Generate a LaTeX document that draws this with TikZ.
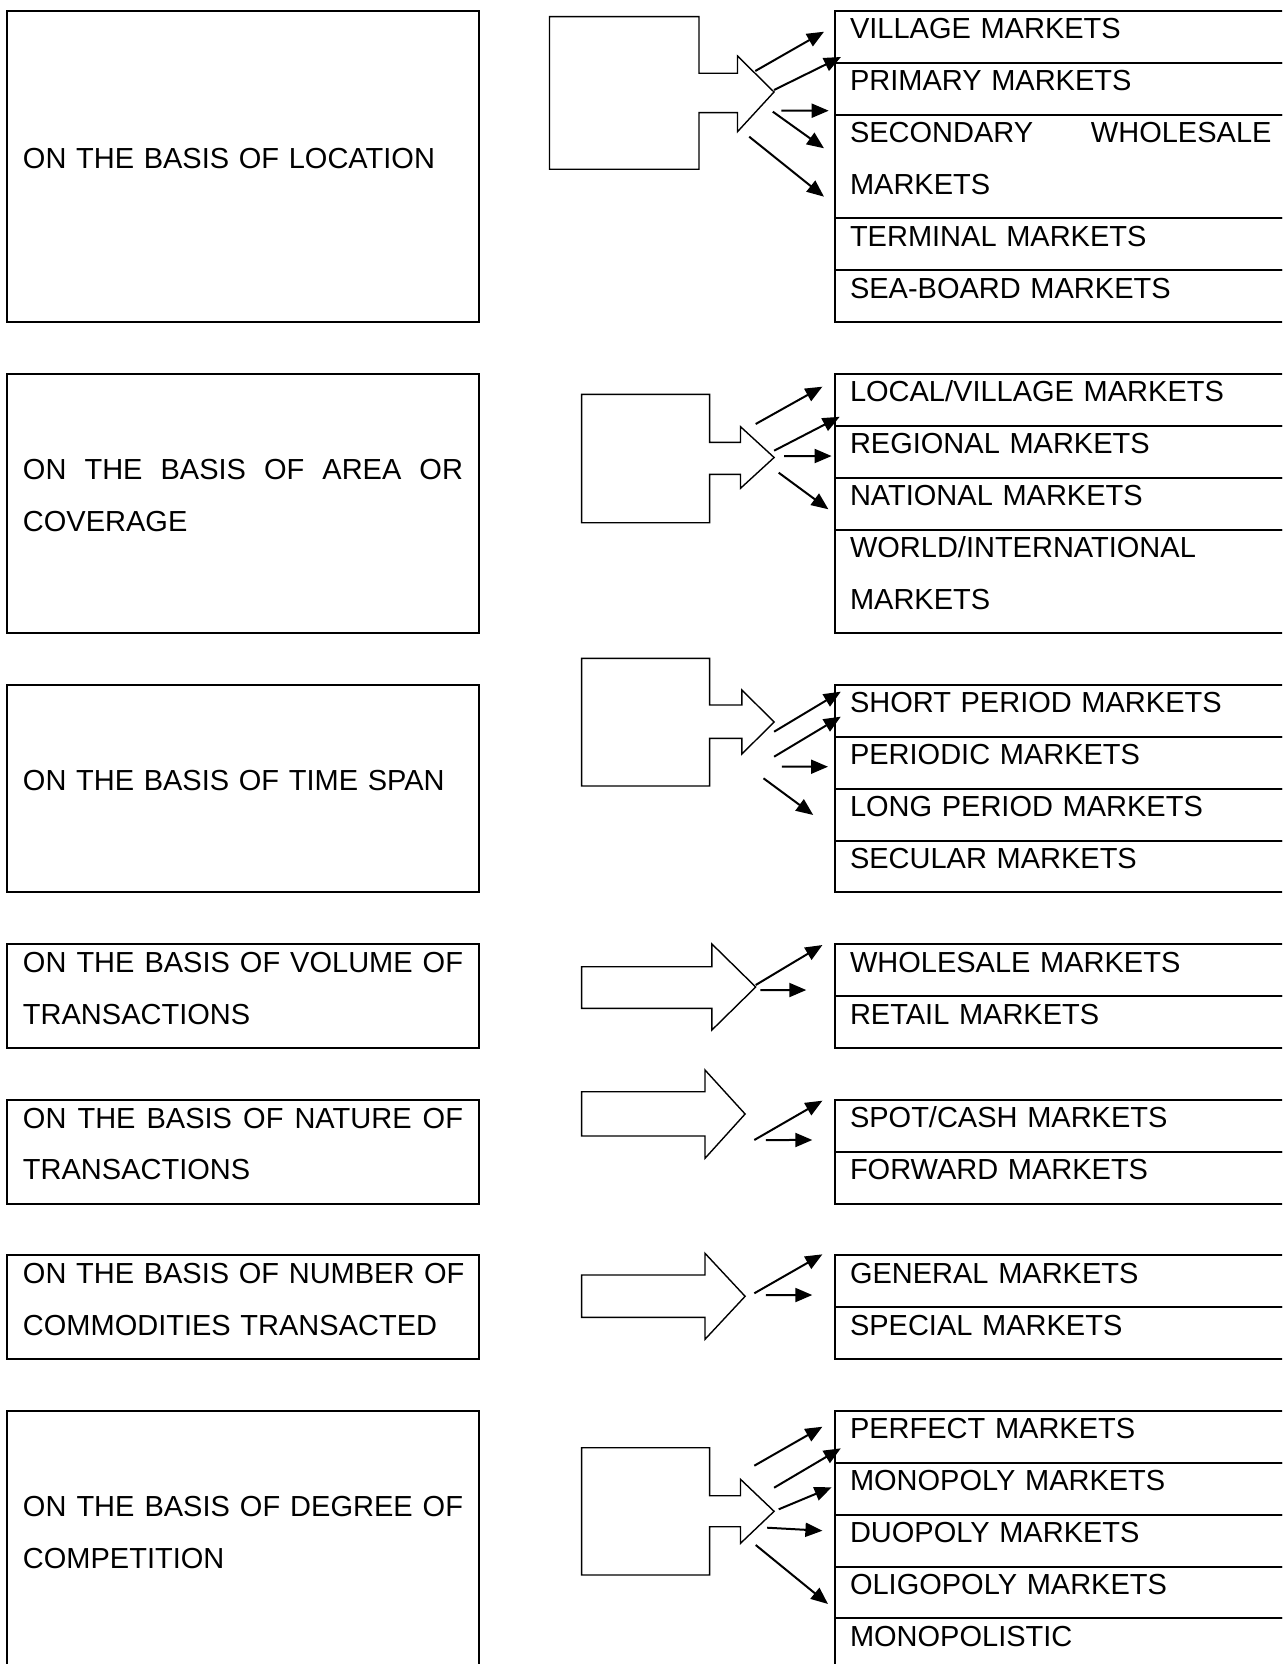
\documentclass[tikz,border=0pt]{standalone}
\usepackage{fontspec}
\setmainfont{Liberation Sans}
\usepackage{tikz}
\usetikzlibrary{positioning,arrows.meta}
\tikzstyle{basis} = [rectangle, draw, line width=1pt, outer sep=0pt, anchor=north west,
minimum width=235.6pt, text width=220pt, inner xsep=7.55pt, inner ysep=0pt, align=left]
\tikzstyle{market} = [rectangle, draw, line width=1pt, outer sep=0pt, minimum width=230.3pt,
minimum height=25.925pt, text width=215pt, inner xsep=7.65pt, inner ysep=0pt, align=left]
\tikzstyle{tworow} = [minimum height=51.85pt]
\tikzstyle{oneline} = [text height=6pt, text depth=4pt]
\tikzstyle{twoline} = [text height=1pt, text depth=24.7pt]
\tikzstyle{bigarrow} = [draw, line width=0.7pt]
\tikzstyle{pointer} = [draw, line width=1pt, -{Triangle[length=8.5pt,width=7pt]}]
\newcommand{\spreadline}[2]{\hbox to #1{#2}}

\begin{document}
\begin{tikzpicture}[x=0.5pt, y=-0.5pt, font=\fontsize{14.5}{25.925}\selectfont]
\useasboundingbox (0,0) rectangle (1282,1664);
\clip (0,0) rectangle (1282,1664);

    % Nodes: bases
    \node [basis, oneline, minimum height=155.55pt] (location) at (7.4,11) {ON THE BASIS OF LOCATION};
    \node [basis, twoline, minimum height=129.625pt] (area) at (7.4,373.95) {\spreadline{220pt}{ON \hfill THE \hfill BASIS \hfill OF \hfill AREA \hfill OR}\\COVERAGE};
    \node [basis, oneline, minimum height=103.7pt] (timespan) at (7.4,685.05) {ON THE BASIS OF TIME SPAN};
    \node [basis, twoline, minimum height=51.85pt] (volume) at (7.4,944.3) {\spreadline{220pt}{ON \hfill THE \hfill BASIS \hfill OF \hfill VOLUME \hfill OF}\\TRANSACTIONS};
    \node [basis, twoline, minimum height=51.85pt] (nature) at (7.4,1099.85) {\spreadline{220pt}{ON \hfill THE \hfill BASIS \hfill OF \hfill NATURE \hfill OF}\\TRANSACTIONS};
    \node [basis, twoline, minimum height=51.85pt] (number) at (7.4,1255.4) {\spreadline{220pt}{ON \hfill THE \hfill BASIS \hfill OF \hfill NUMBER \hfill OF}\\COMMODITIES TRANSACTED};
    \node [basis, twoline, minimum height=129.625pt] (degree) at (7.4,1411) {\spreadline{220pt}{ON \hfill THE \hfill BASIS \hfill OF \hfill DEGREE \hfill OF}\\COMPETITION};

    % Nodes: markets
    \node [market, oneline, anchor=north west] (village) at (834.7,11) {VILLAGE MARKETS};
    \node [market, oneline, below=0pt of village] (primary) {PRIMARY MARKETS};
    \node [market, twoline, tworow, below=0pt of primary] (secondary) {\spreadline{210.75pt}{SECONDARY \hfill WHOLESALE}\\MARKETS};
    \node [market, oneline, below=0pt of secondary] (terminal) {TERMINAL MARKETS};
    \node [market, oneline, below=0pt of terminal] (seaboard) {SEA-BOARD MARKETS};

    \node [market, oneline, anchor=north west] (local) at (834.7,373.95) {LOCAL/VILLAGE MARKETS};
    \node [market, oneline, below=0pt of local] (regional) {REGIONAL MARKETS};
    \node [market, oneline, below=0pt of regional] (national) {NATIONAL MARKETS};
    \node [market, twoline, tworow, below=0pt of national] (world) {WORLD/INTERNATIONAL\\MARKETS};

    \node [market, oneline, anchor=north west] (shortperiod) at (834.7,685.05) {SHORT PERIOD MARKETS};
    \node [market, oneline, below=0pt of shortperiod] (periodic) {PERIODIC MARKETS};
    \node [market, oneline, below=0pt of periodic] (longperiod) {LONG PERIOD MARKETS};
    \node [market, oneline, below=0pt of longperiod] (secular) {SECULAR MARKETS};

    \node [market, oneline, anchor=north west] (wholesale) at (834.7,944.3) {WHOLESALE MARKETS};
    \node [market, oneline, below=0pt of wholesale] (retail) {RETAIL MARKETS};

    \node [market, oneline, anchor=north west] (spot) at (834.7,1099.85) {SPOT/CASH MARKETS};
    \node [market, oneline, below=0pt of spot] (forward) {FORWARD MARKETS};

    \node [market, oneline, anchor=north west] (general) at (834.7,1255.4) {GENERAL MARKETS};
    \node [market, oneline, below=0pt of general] (special) {SPECIAL MARKETS};

    \node [market, oneline, anchor=north west] (perfect) at (834.7,1411) {PERFECT MARKETS};
    \node [market, oneline, below=0pt of perfect] (monopoly) {MONOPOLY MARKETS};
    \node [market, oneline, below=0pt of monopoly] (duopoly) {DUOPOLY MARKETS};
    \node [market, oneline, below=0pt of duopoly] (oligopoly) {OLIGOPOLY MARKETS};
    \node [market, oneline, below=0pt of oligopoly] (monopolistic) {MONOPOLISTIC};

    % block arrows
    \coordinate (tip1) at (774,92);
    \coordinate (tip2) at (774.1,457.5);
    \coordinate (tip3) at (774.1,722);
    \coordinate (tip4) at (755.7,987);
    \coordinate (tip5) at (745.1,1114);
    \coordinate (tip6) at (745.1,1296.3);
    \coordinate (tip7) at (774.1,1511.3);

    \draw[bigarrow] (549.5,16.7) -- (699,16.7) -- (699,73.3) -- (737.5,73.3) -- (737.5,56) -- (tip1) -- (737.5,131.7) -- (737.5,112.7) -- (699,112.7) -- (699,169.3) -- (549.5,169.3) -- cycle;
    \draw[bigarrow] (581.6,394.3) -- (709.6,394.3) -- (709.6,442.3) -- (740.5,442.3) -- (740.5,426.7) -- (tip2) -- (740.5,488.3) -- (740.5,474.3) -- (709.6,474.3) -- (709.6,522.7) -- (581.6,522.7) -- cycle;
    \draw[bigarrow] (581.6,658.3) -- (709.6,658.3) -- (709.6,705) -- (741.9,705) -- (741.9,690) -- (tip3) -- (741.9,754) -- (741.9,738.3) -- (709.6,738.3) -- (709.6,786) -- (581.6,786) -- cycle;
    \draw[bigarrow] (581.6,966.7) -- (711.9,966.7) -- (711.9,944) -- (tip4) -- (711.9,1030) -- (711.9,1008.3) -- (581.6,1008.3) -- cycle;
    \draw[bigarrow] (581.6,1091.7) -- (705,1091.7) -- (705,1070) -- (tip5) -- (705,1158.3) -- (705,1136) -- (581.6,1136) -- cycle;
    \draw[bigarrow] (581.6,1275) -- (705,1275) -- (705,1253.3) -- (tip6) -- (705,1339.3) -- (705,1317.3) -- (581.6,1317.3) -- cycle;
    \draw[bigarrow] (581.6,1447.7) -- (709.6,1447.7) -- (709.6,1495.7) -- (740.5,1495.7) -- (740.5,1479.3) -- (tip7) -- (740.5,1543.3) -- (740.5,1526.7) -- (709.6,1526.7) -- (709.6,1575) -- (581.6,1575) -- cycle;

    % arrows
    \draw[pointer] ([shift={(-18.7,-21)}]tip1) -- ([shift={(-10.7,-5.2)}]village.west);
    \draw[pointer] ([shift={(0,-2)}]tip1) -- ([shift={(6.3,-5.85)}]village.south west);
    \draw[pointer] ([shift={(7.4,18.7)}]tip1) -- ([shift={(-6,-4)}]secondary.north west);
    \draw[pointer] ([shift={(-1.2,19.7)}]tip1) -- ([shift={(-10.7,-18.25)}]secondary.west);
    \draw[pointer] ([shift={(-24.8,44.7)}]tip1) -- ([shift={(-10.7,30.15)}]secondary.west);

    \draw[pointer] ([shift={(-18.4,-33.5)}]tip2) -- ([shift={(-12.3,-13.2)}]local.west);
    \draw[pointer] ([shift={(0,-6.8)}]tip2) -- ([shift={(5,-9)}]local.south west);
    \draw[pointer] ([shift={(10.1,-1.5)}]tip2) -- ([shift={(-3.1,4.3)}]regional.west);
    \draw[pointer] ([shift={(4.6,15.2)}]tip2) -- ([shift={(-6.3,5.7)}]national.west);

    \draw[pointer] ([shift={(0,9.7)}]tip3) -- ([shift={(6.1,-19.3)}]shortperiod.west);
    \draw[pointer] ([shift={(0,34.7)}]tip3) -- ([shift={(6.1,5.7)}]shortperiod.west);
    \draw[pointer] ([shift={(7.8,44.7)}]tip3) -- ([shift={(-6.7,3.9)}]periodic.west);
    \draw[pointer] ([shift={(-10.6,56.3)}]tip3) -- ([shift={(-21.5,0.3)}]longperiod.west);

    \draw[pointer] ([shift={(0,-2)}]tip4) -- ([shift={(-12.3,-25.2)}]wholesale.west);
    \draw[pointer] ([shift={(4.6,3)}]tip4) -- ([shift={(-28.4,19.8)}]wholesale.west);

    \draw[pointer] ([shift={(9.2,26)}]tip5) -- ([shift={(-12.3,-25.1)}]spot.west);
    \draw[pointer] ([shift={(20.7,26)}]tip5) -- ([shift={(-22.4,14.2)}]spot.west);

    \draw[pointer] ([shift={(9.2,-3)}]tip6) -- ([shift={(-12.3,-27)}]general.west);
    \draw[pointer] ([shift={(20.7,-1.3)}]tip6) -- ([shift={(-22.4,13.7)}]general.west);

    \draw[pointer] ([shift={(-19.8,-45.6)}]tip7) -- ([shift={(-12.3,-10.2)}]perfect.west);
    \draw[pointer] ([shift={(0,-23.6)}]tip7) -- ([shift={(6.1,-14.55)}]perfect.south west);
    \draw[pointer] ([shift={(4.6,-2)}]tip7) -- ([shift={(-3.1,-1.5)}]monopoly.west);
    \draw[pointer] ([shift={(-6.9,16.4)}]tip7) -- ([shift={(-12.3,-9.9)}]duopoly.west);
    \draw[pointer] ([shift={(-18.4,33.7)}]tip7) -- ([shift={(-6.7,11.5)}]oligopoly.west);

\end{tikzpicture}
\end{document}
